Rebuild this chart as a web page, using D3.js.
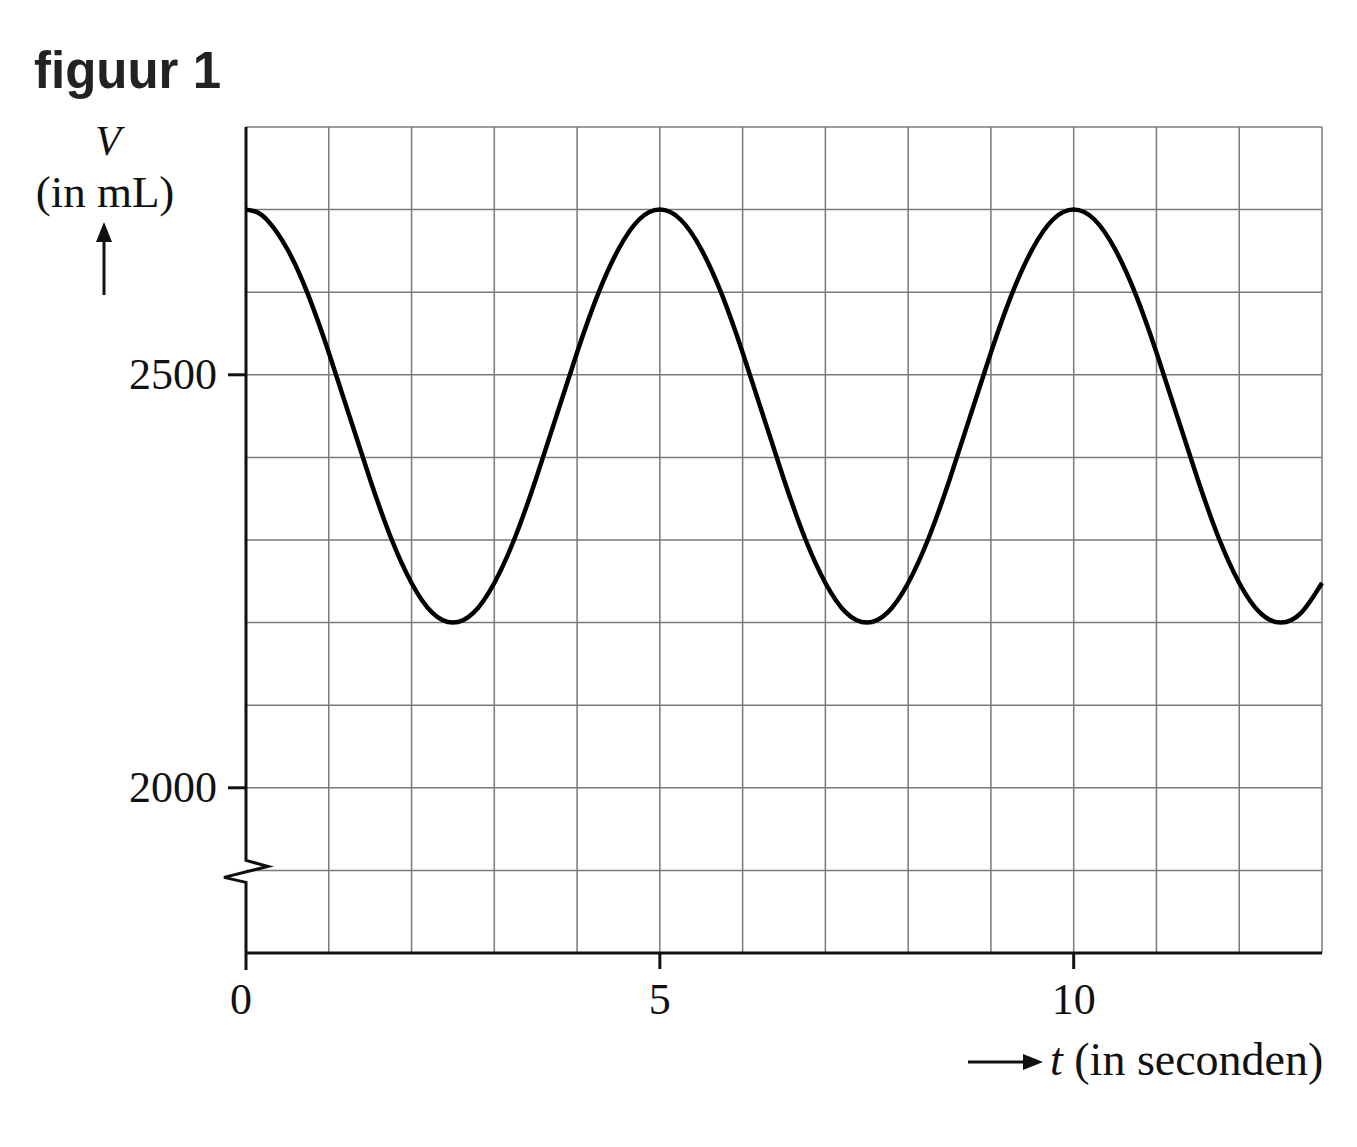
<!DOCTYPE html>
<html><head><meta charset="utf-8">
<script src="https://cdn.jsdelivr.net/npm/d3@7"></script>
<style>body{margin:0;background:#fff}</style>
</head><body>
<svg id="c" width="1357" height="1147"></svg>
<script>
// Data (t in seconds, V in mL)
const tValues = [0,0.1,0.25,0.5,0.75,1,1.25,1.5,1.75,2,2.25,2.5,2.75,3,3.25,3.5,3.75,4,4.25,4.5,4.75,
  5,5.25,5.5,5.75,6,6.25,6.5,6.75,7,7.25,7.5,7.75,8,8.25,8.5,8.75,9,9.25,9.5,9.75,
  10,10.25,10.5,10.75,11,11.25,11.5,11.75,12,12.25,12.5,12.75,13];
const vValues = [2700,2698,2688,2652,2597,2527,2450,2373,2303,2248,2212,2200,2212,2248,2303,2373,2450,2527,2597,2652,2688,
  2700,2688,2652,2597,2527,2450,2373,2303,2248,2212,2200,2212,2248,2303,2373,2450,2527,2597,2652,2688,
  2700,2688,2652,2597,2527,2450,2373,2303,2248,2212,2200,2212,2248];
const xTickValues = [0,5,10];
const xTickLabels = ["0","5","10"];
const yTickValues = [2000,2500];
const yTickLabels = ["2000","2500"];

const svg = d3.select("#c");
const L = 246, R = 1322, T = 127, B = 953;
const x = d3.scaleLinear().domain([0,13]).range([L,R]);
const y = d3.scaleLinear().domain([1800,2800]).range([B,T]);
const serif = "'Liberation Serif','Times New Roman',serif";

// title
svg.append("text").attr("x",34).attr("y",88).attr("font-family","'Liberation Sans',Arial,sans-serif")
  .attr("font-weight","bold").attr("font-size",51).attr("fill","#222").text("figuur 1");

// grid
const g = svg.append("g");
g.selectAll(".vg").data(d3.range(1,14)).enter().append("line")
  .attr("x1",d=>x(d)).attr("x2",d=>x(d)).attr("y1",T).attr("y2",B)
  .attr("stroke","#7a7a7a").attr("stroke-width",1.5);
g.selectAll(".hg").data(d3.range(1900,2801,100)).enter().append("line")
  .attr("x1",L).attr("x2",R).attr("y1",d=>y(d)).attr("y2",d=>y(d))
  .attr("stroke","#7a7a7a").attr("stroke-width",1.5);

// x axis
svg.append("line").attr("x1",L).attr("x2",R).attr("y1",B).attr("y2",B)
  .attr("stroke","#111").attr("stroke-width",3);
// left axis with break
const brk = y(1900);
svg.append("path").attr("fill","none").attr("stroke","#111").attr("stroke-width",3)
  .attr("d",`M${L},${T} L${L},${brk-10} L${L+22},${brk-4} L${L-22},${brk+7} L${L},${brk+12} L${L},${B+17}`);

// y ticks
svg.selectAll(".yt").data(yTickValues).enter().append("line")
  .attr("x1",L-18).attr("x2",L).attr("y1",d=>y(d)).attr("y2",d=>y(d))
  .attr("stroke","#111").attr("stroke-width",3);
svg.selectAll(".ytl").data(yTickValues).enter().append("text")
  .attr("x",L-29).attr("y",d=>y(d)+14).attr("text-anchor","end")
  .attr("font-family",serif).attr("font-size",44).attr("fill","#111")
  .text((d,i)=>yTickLabels[i]);

// x ticks
svg.selectAll(".xt").data(xTickValues.filter(d=>d>0)).enter().append("line")
  .attr("x1",d=>x(d)).attr("x2",d=>x(d)).attr("y1",B).attr("y2",B+16)
  .attr("stroke","#111").attr("stroke-width",3);
svg.selectAll(".xtl").data(xTickValues).enter().append("text")
  .attr("x",d=>x(d)-(d===0?5:0)).attr("y",B+61).attr("text-anchor","middle")
  .attr("font-family",serif).attr("font-size",44).attr("fill","#111")
  .text((d,i)=>xTickLabels[i]);

// curve
const pts = tValues.map((t,i)=>[t,vValues[i]]);
svg.append("path").datum(pts).attr("fill","none").attr("stroke","#000").attr("stroke-width",4.5)
  .attr("stroke-linejoin","round")
  .attr("d",d3.line().x(d=>x(d[0])).y(d=>y(d[1])).curve(d3.curveNatural));

// y label
svg.append("text").attr("x",108).attr("y",155).attr("text-anchor","middle")
  .attr("font-family",serif).attr("font-style","italic").attr("font-size",42).attr("fill","#111").text("V");
svg.append("text").attr("x",105).attr("y",207).attr("text-anchor","middle")
  .attr("font-family",serif).attr("font-size",45).attr("fill","#111").text("(in mL)");
svg.append("line").attr("x1",104).attr("x2",104).attr("y1",295).attr("y2",238)
  .attr("stroke","#111").attr("stroke-width",3);
svg.append("path").attr("d","M104,222 L96,242 L112,242 Z").attr("fill","#111");

// x label
svg.append("line").attr("x1",968).attr("x2",1026).attr("y1",1062).attr("y2",1062)
  .attr("stroke","#111").attr("stroke-width",3);
svg.append("path").attr("d","M1043,1062 L1023,1054 L1023,1070 Z").attr("fill","#111");
const xl = svg.append("text").attr("x",1050).attr("y",1075)
  .attr("font-family",serif).attr("font-size",46).attr("fill","#111");
xl.append("tspan").attr("font-style","italic").text("t");
xl.append("tspan").text(" (in seconden)");
</script>
</body></html>
